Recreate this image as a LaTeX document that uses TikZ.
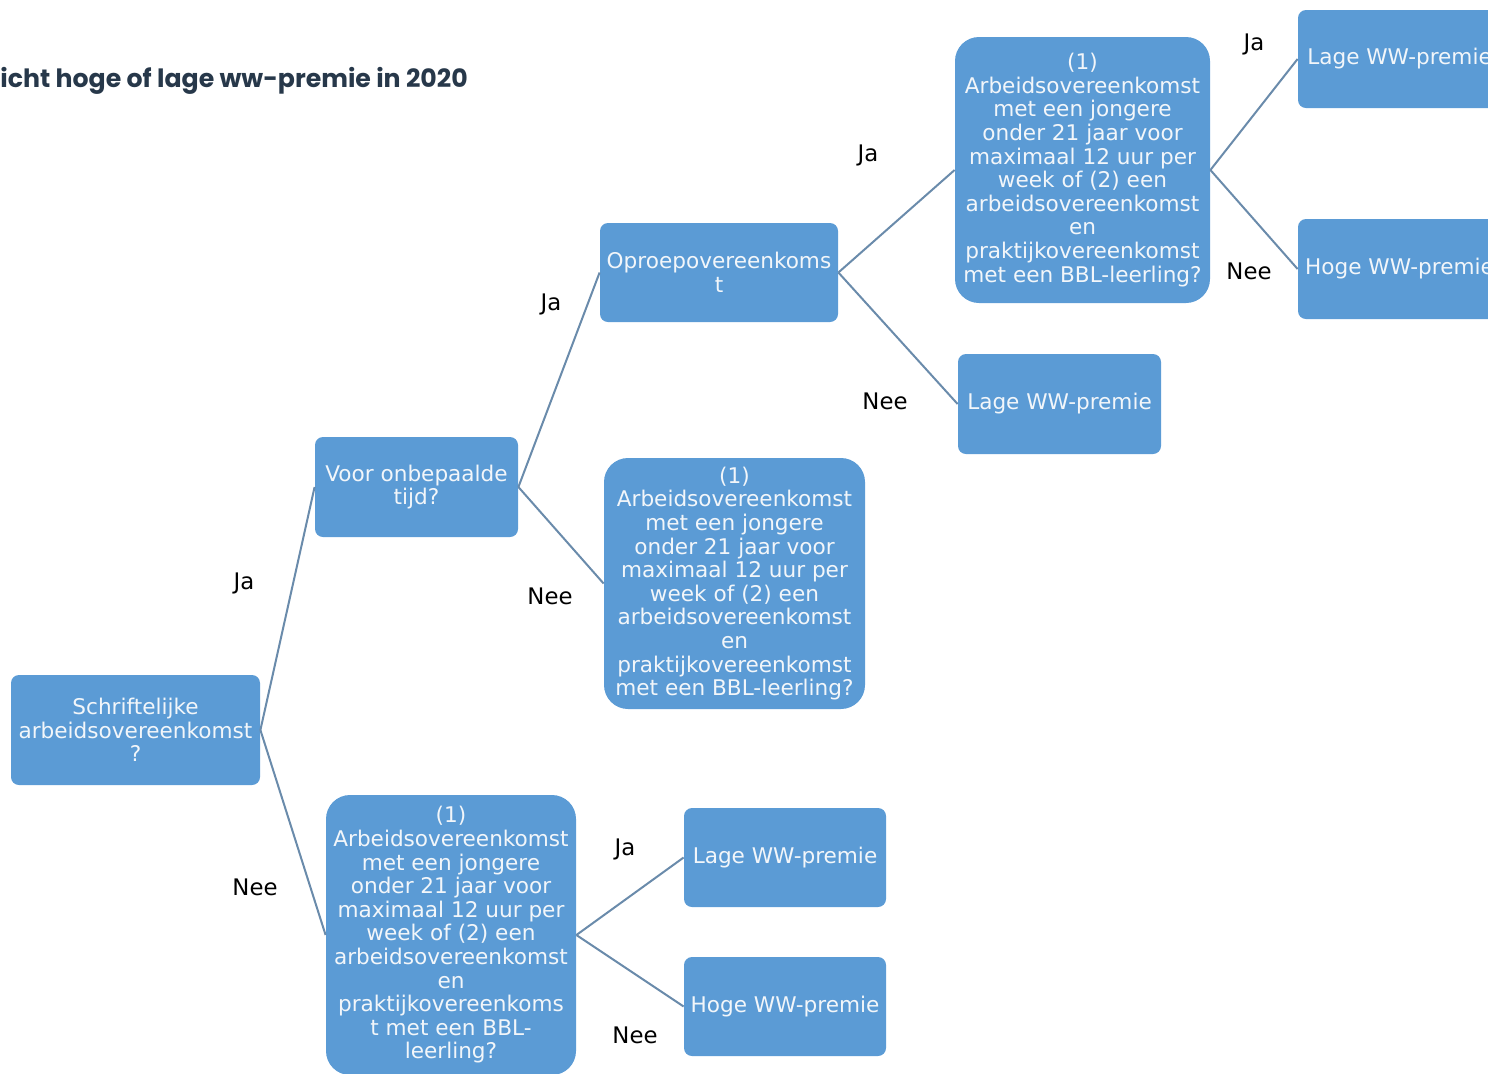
\documentclass[tikz,border=0pt]{standalone}
\usepackage{fontspec}
\setmainfont{DejaVu Sans}
\newfontfamily\titlefont{Poppins}
\definecolor{boxblue}{HTML}{5B9BD5}
\definecolor{boxtext}{HTML}{F2F6FA}
\definecolor{linegray}{HTML}{6A8BAB}
\definecolor{titleink}{HTML}{27384A}
\tikzset{
  box/.style={rectangle, rounded corners=4pt, fill=boxblue, text=boxtext, align=center,
    inner sep=0pt, font=\fontsize{10.8}{11.8}\selectfont},
  bigbox/.style={box, rounded corners=12pt},
  answer/.style={font=\fontsize{11.4}{13}\selectfont, text=black},
  link/.style={draw=linegray, line width=1pt}
}
\begin{document}
\begin{tikzpicture}[x=0.5pt,y=-0.5pt]
            \useasboundingbox (0,0) rectangle (1488,1073);
            \clip (0,0) rectangle (1488,1073);
            \node[anchor=base west, inner sep=0pt, text=titleink, font=\titlefont\bfseries\fontsize{12.6}{14}\selectfont] (title) at (0,87) {icht hoge of lage ww-premie in 2020};

            \node (1) [box, minimum width=124.5pt, minimum height=55pt] at (135.5,730) {Schriftelijke\\arbeidsovereenkomst\\?};
            \node (2) [box, minimum width=101.5pt, minimum height=50pt] at (416.5,487) {Voor onbepaalde\\tijd?};
            \node (3) [box, minimum width=119pt, minimum height=49.5pt] at (719,272.5) {Oproepovereenkoms\\t};
            \node (4) [bigbox, minimum width=127.5pt, minimum height=133pt] at (1082.5,170) {(1)\\Arbeidsovereenkomst\\met een jongere\\onder 21 jaar voor\\maximaal 12 uur per\\week of (2) een\\arbeidsovereenkomst\\en\\praktijkovereenkomst\\met een BBL-leerling?};
            \node (5) [box, minimum width=101.5pt, minimum height=49pt] at (1399.5,59) {Lage WW-premie};
            \node (6) [box, minimum width=101.5pt, minimum height=50pt] at (1399.5,269) {Hoge WW-premie};
            \node (7) [box, minimum width=101.5pt, minimum height=50pt] at (1059.5,404) {Lage WW-premie};
            \node (8) [bigbox, minimum width=130.5pt, minimum height=125.5pt] at (734.5,583.5) {(1)\\Arbeidsovereenkomst\\met een jongere\\onder 21 jaar voor\\maximaal 12 uur per\\week of (2) een\\arbeidsovereenkomst\\en\\praktijkovereenkomst\\met een BBL-leerling?};
            \node (9) [bigbox, minimum width=125pt, minimum height=140pt] at (451,935) {(1)\\Arbeidsovereenkomst\\met een jongere\\onder 21 jaar voor\\maximaal 12 uur per\\week of (2) een\\arbeidsovereenkomst\\en\\praktijkovereenkoms\\t met een BBL-\\leerling?};
            \node (10) [box, minimum width=101pt, minimum height=49.5pt] at (785,857.5) {Lage WW-premie};
            \node (11) [box, minimum width=101pt, minimum height=49.5pt] at (785,1006.5) {Hoge WW-premie};

            \node (ja1) [answer] at (244,583) {Ja};
            \node (nee1) [answer] at (255,887) {Nee};
            \node (ja2) [answer] at (551,304) {Ja};
            \node (nee2) [answer] at (550,596) {Nee};
            \node (ja3) [answer] at (868,155) {Ja};
            \node (nee3) [answer] at (885,401) {Nee};
            \node (ja4) [answer] at (1254,44) {Ja};
            \node (nee4) [answer] at (1249,271) {Nee};
            \node (ja5) [answer] at (625,849) {Ja};
            \node (nee5) [answer] at (635,1035) {Nee};

            \path[link]
            (1.east) edge (2.west)
            (1.east) edge (9.west)
            (2.east) edge (3.west)
            (2.east) edge (8.west)
            (3.east) edge (4.west)
            (3.east) edge (7.west)
            (4.east) edge (5.west)
            (4.east) edge (6.west)
            (9.east) edge (10.west)
            (9.east) edge (11.west);

        \end{tikzpicture}
\end{document}
